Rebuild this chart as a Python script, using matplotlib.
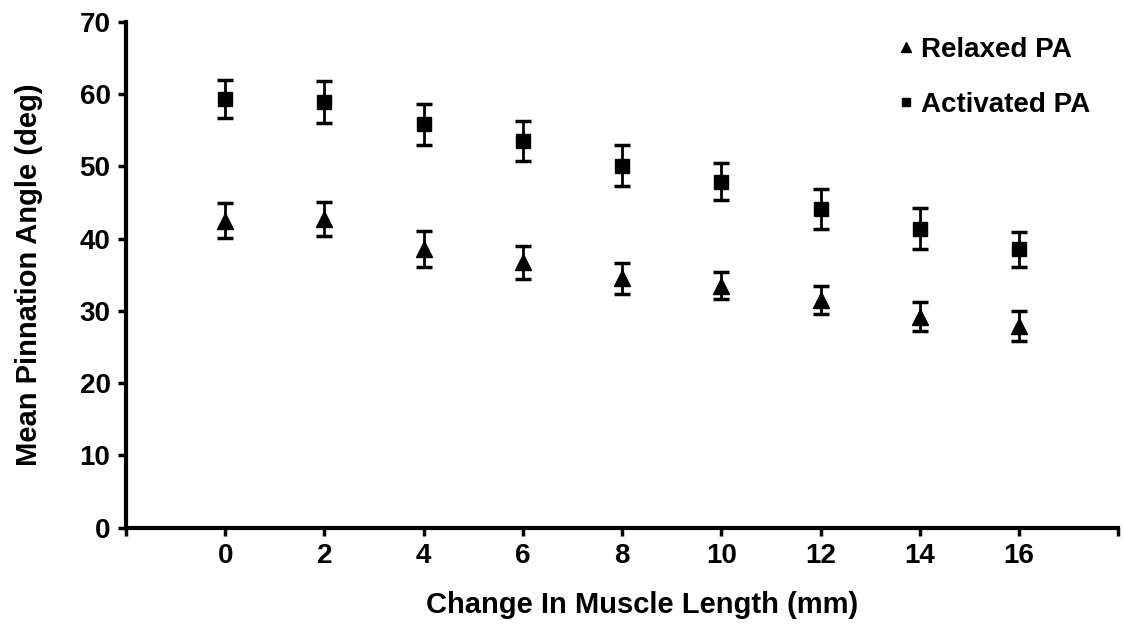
import matplotlib.pyplot as plt

# Pinnation angle vs change in muscle length
length_change = [0, 2, 4, 6, 8, 10, 12, 14, 16]
relaxed_pa = [42.5, 42.7, 38.6, 36.7, 34.5, 33.5, 31.5, 29.2, 27.9]
relaxed_err = [2.4, 2.4, 2.5, 2.3, 2.1, 1.9, 1.9, 2.0, 2.1]
activated_pa = [59.3, 58.9, 55.8, 53.5, 50.1, 47.9, 44.1, 41.4, 38.5]
activated_err = [2.6, 2.9, 2.8, 2.8, 2.8, 2.5, 2.8, 2.8, 2.4]

plt.rcParams['font.family'] = ['Liberation Sans', 'DejaVu Sans']
plt.rcParams['font.weight'] = 'bold'

fig = plt.figure(figsize=(11.24, 6.42), dpi=100)
ax = fig.add_axes([0.112, 0.178, 0.883, 0.788])

ax.errorbar(length_change, relaxed_pa, yerr=relaxed_err, fmt='^', color='black',
            markersize=12, capsize=5.5, elinewidth=2, capthick=2.5, label='Relaxed PA')
ax.errorbar(length_change, activated_pa, yerr=activated_err, fmt='s', color='black',
            markersize=10, capsize=5.5, elinewidth=2, capthick=2.5, label='Activated PA')

ax.set_xlim(-2, 18)
ax.set_ylim(0, 70)
ax.set_xticks(range(-2, 19, 2))
ax.set_xticklabels([''] + [str(v) for v in range(0, 17, 2)] + [''])
ax.set_yticks(range(0, 71, 10))

for side in ['top', 'right']:
    ax.spines[side].set_visible(False)
for side in ['left', 'bottom']:
    ax.spines[side].set_linewidth(3)
ax.tick_params(direction='out', length=6, width=2.5, labelsize=20, pad=5)
ax.tick_params(axis='y', pad=5)

ax.set_xlabel('Change In Muscle Length (mm)', fontsize=21, fontweight='bold', labelpad=14)
ax.xaxis.set_label_coords(0.52, -0.125)
ax.set_ylabel('Mean Pinnation Angle (deg)', fontsize=21, fontweight='bold', labelpad=26)

handles, labels = ax.get_legend_handles_labels()
handles = [h[0] for h in handles]
leg = ax.legend(handles, labels, loc='upper right', bbox_to_anchor=(0.997, 1.02), frameon=False,
                handletextpad=0.1, handlelength=0.9, labelspacing=1.05,
                markerscale=0.6, prop={'weight': 'bold', 'size': 20})

plt.savefig('out.png', dpi=100)
